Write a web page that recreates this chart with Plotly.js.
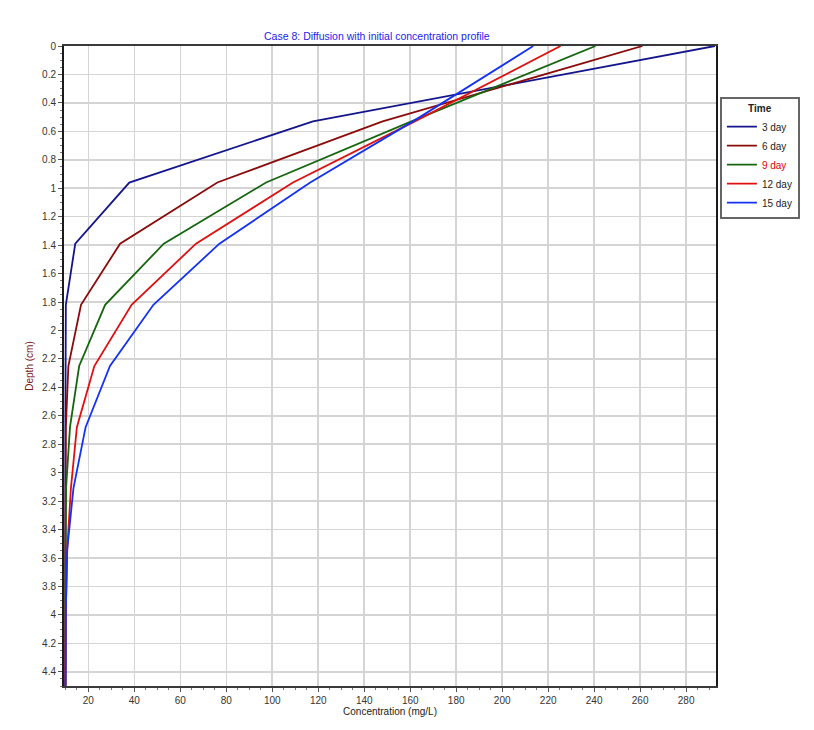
<!DOCTYPE html>
<html>
<head>
<meta charset="utf-8">
<script src="https://cdn.plot.ly/plotly-3.0.1.min.js"></script>
<style>html,body{margin:0;padding:0;background:#fff;}#chart{width:814px;height:730px;}</style>
</head>
<body>
<div id="chart"></div>
<script>
// Depth nodes (cm)
const depth = [0, 0.53, 0.96, 1.39, 1.82, 2.25, 2.68, 3.11, 3.54, 3.97, 4.4, 4.5];
// Concentrations (mg/L) per time
const day3  = [292.5, 117.7, 37.8, 14.3, 10.2, 10.0, 10.0, 10.0, 10.0, 10.0, 10.0, 10.0];
const day6  = [261.0, 148.0, 76.1, 33.8, 16.8, 11.3, 10.2, 10.0, 10.0, 10.0, 10.0, 10.0];
const day9  = [240.6, 160.5, 97.3, 52.8, 27.3, 16.0, 12.0, 10.3, 10.1, 10.0, 10.0, 10.0];
const day12 = [225.4, 162.0, 109.0, 66.8, 38.8, 22.6, 15.0, 12.4, 10.8, 10.2, 10.0, 10.0];
const day15 = [213.5, 161.2, 116.5, 77.0, 48.3, 29.4, 18.8, 13.5, 10.8, 10.2, 10.1, 10.0];

const seriesNames = ['3 day', '6 day', '<span style="color:#e00000">9 day</span>', '12 day', '15 day'];
const seriesData = [day3, day6, day9, day12, day15];
const seriesColors = ['#14148c', '#8b0a0a', '#16660f', '#e01010', '#1432f5'];

const traces = seriesData.map((vals, i) => ({
  x: vals,
  y: depth,
  type: 'scatter',
  mode: 'lines',
  name: seriesNames[i],
  line: {color: seriesColors[i], width: 1.8}
}));

const font = "Liberation Sans, Arial, sans-serif";

const layout = {
  width: 814,
  height: 730,
  margin: {l: 64, r: 98, t: 46, b: 44},
  paper_bgcolor: '#ffffff',
  plot_bgcolor: '#ffffff',
  font: {family: font, size: 10, color: '#333333'},
  title: {
    text: 'Case 8: Diffusion with initial concentration profile',
    font: {family: font, size: 10.5, color: '#2222ee'},
    xref: 'container', yref: 'container',
    x: 0.463, xanchor: 'center',
    y: 1 - 36/730, yanchor: 'middle'
  },
  xaxis: {
    range: [9.4, 293],
    tick0: 0, dtick: 20,
    showgrid: true, gridcolor: '#d4d4d4', gridwidth: 1.6,
    zeroline: false,
    showline: true, linecolor: '#3a3a3a', linewidth: 2, mirror: true,
    ticks: 'outside', ticklen: 4, tickcolor: '#555', tickwidth: 1,
    minor: {dtick: 5, ticks: 'outside', ticklen: 2, tickcolor: '#777', showgrid: false},
    tickfont: {family: font, size: 10, color: '#333'},
    title: {text: 'Concentration (mg/L)', font: {family: font, size: 10, color: '#222'}, standoff: 2},
    automargin: false
  },
  yaxis: {
    range: [4.5, 0],
    tick0: 0, dtick: 0.2,
    showgrid: true, gridcolor: '#d4d4d4', gridwidth: 1.6,
    zeroline: false,
    showline: true, linecolor: '#1a1a1a', linewidth: 2, mirror: true,
    ticks: 'outside', ticklen: 4, tickcolor: '#555', tickwidth: 1,
    minor: {dtick: 0.05, ticks: 'outside', ticklen: 2, tickcolor: '#777', showgrid: false},
    tickfont: {family: font, size: 10, color: '#333'},
    title: {text: 'Depth (cm)', font: {family: font, size: 10, color: '#7a1a1a'}, standoff: 7},
    automargin: false
  },
  showlegend: true,
  legend: {
    x: 1.006, xanchor: 'left',
    y: 0.92, yanchor: 'top',
    bgcolor: '#ffffff',
    bordercolor: '#666666', borderwidth: 2,
    font: {family: font, size: 10, color: '#222'},
    title: {text: '<b>Time</b>', side: 'top center', font: {family: font, size: 10, color: '#222'}},
    tracegroupgap: 0,
    itemwidth: 30
  }
};

Plotly.newPlot('chart', traces, layout, {displayModeBar: false, staticPlot: true});
</script>
</body>
</html>
